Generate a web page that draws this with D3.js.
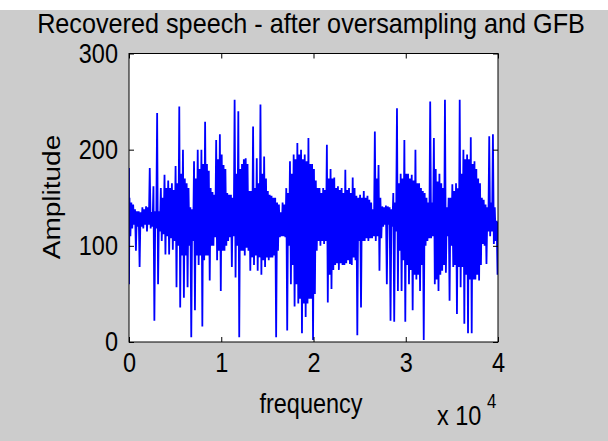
<!DOCTYPE html>
<html>
<head>
<meta charset="utf-8">
<script src="https://cdn.jsdelivr.net/npm/d3@7"></script>
<style>
body { margin: 0; background: #fff; }
text { font-family: "Liberation Sans", Arial, sans-serif; fill: #000; }
</style>
</head>
<body>
<svg width="608" height="441"></svg>
<script>
// samples every 400 units from 0 to 40000
let sampleStep = 400
// peak of each slot (spikes up)
let hi = [181,145,138,136,140,141,181,162,238,160,
          174,168,165,183,245,200,165,140,188,200,
          200,229,178,156,210,216,184,155,153,252,
          240,185,191,157,224,191,247,193,157,152,
          150,143,145,160,188,195,207,200,195,212,
          185,168,160,160,205,180,171,162,160,179,
          160,171,152,153,157,152,145,219,184,141,
          142,140,155,243,175,210,175,174,200,165,
          157,150,250,212,167,165,252,150,164,165,
          252,200,195,213,188,170,150,143,214,216,
          126]
// lowest of each slot (spikes down)
let lo = [60,118,95,78,118,115,118,22,60,105,
          91,91,96,57,36,46,57,5,33,80,
          16,90,64,100,85,53,95,105,78,67,
          5,95,98,74,80,74,70,78,85,88,
          5,109,110,12,60,37,40,9,26,45,
          2,95,100,102,41,55,80,75,80,82,
          81,88,7,36,105,105,108,105,74,120,
          60,22,21,53,53,21,60,33,65,53,
          2,105,108,60,53,74,72,43,78,29,
          57,19,9,9,65,64,102,81,110,102,
          70]
// solid part of the waveform, top and bottom
let bodyHi = [150,143,136,135,138,140,135,136,136,150,
              160,160,158,165,175,170,160,138,170,180,
              185,185,160,153,190,195,180,153,150,175,
              180,190,185,157,160,165,175,170,153,150,
              145,135,143,155,175,190,195,190,188,185,
              180,160,155,158,170,170,160,158,155,158,
              155,160,150,150,150,148,138,170,150,140,
              141,138,145,165,170,175,170,168,165,160,
              155,145,145,180,175,160,140,150,157,160,
              175,190,190,185,180,165,148,140,145,140,
              125]
let bodyLo = [110,122,120,120,122,122,120,118,115,112,
              110,108,105,100,90,90,100,105,90,90,
              85,90,100,109,95,95,100,109,110,100,
              95,90,95,88,90,88,85,88,88,90,
              95,110,109,100,80,60,45,40,40,45,
              50,105,105,105,70,75,82,82,80,85,
              80,85,105,105,108,108,110,110,108,122,
              122,120,115,95,85,80,75,70,70,80,
              100,108,110,65,70,80,110,100,80,78,
              78,70,65,65,70,80,100,115,115,105,
              100]

let xTicks = [0, 10000, 20000, 30000, 40000]
let xTickLabels = ["0", "1", "2", "3", "4"]
let yTicks = [0, 100, 200, 300]

let titre = "Recovered speech - after oversampling and GFB"

let gauche = 129, droite = 498, haut = 53.5, bas = 342
let sx = 0.84   // l'image d'origine est ecrasee en largeur

let svg = d3.select("svg")

// fond gris matlab, bande blanche en haut
svg.append("rect").attr("x", 0).attr("y", 10).attr("width", 608).attr("height", 431).attr("fill", "#cccccc")
svg.append("rect").attr("x", gauche).attr("y", haut).attr("width", droite - gauche).attr("height", bas - haut).attr("fill", "#fff")

let x = d3.scaleLinear().domain([0, 40000]).range([gauche, droite])
let y = d3.scaleLinear().domain([0, 300]).range([bas, haut])

// construire la courbe
let points = []
for (let i = 0; i < hi.length; i++) {
    let x0 = i * sampleStep
    let vals = [hi[i], lo[i], bodyHi[i], bodyLo[i]]
    for (let k = 0; k < 4; k++) {
        let xx = Math.min(40000, x0 - 150 + k * 100)
        points.push([Math.max(0, xx), vals[k]])
    }
}

svg.append("clipPath").attr("id", "clip")
    .append("rect").attr("x", gauche).attr("y", haut).attr("width", droite - gauche).attr("height", bas - haut)

let line = d3.line().x(d => x(d[0])).y(d => y(d[1]))
svg.append("path")
    .datum(points)
    .attr("d", line)
    .attr("fill", "none")
    .attr("stroke", "#0000ff")
    .attr("stroke-width", 1.8)
    .attr("clip-path", "url(#clip)")

// axes
let fs = 28
let xAxis = d3.axisBottom(x).tickValues(xTicks).tickFormat((d, i) => xTickLabels[i]).tickSizeInner(-5).tickSizeOuter(0).tickPadding(10)
svg.append("g").attr("transform", `translate(0,${bas})`).call(xAxis)
let yAxis = d3.axisLeft(y).tickValues(yTicks).tickSizeInner(-5).tickSizeOuter(0).tickPadding(11)
svg.append("g").attr("transform", `translate(${gauche},0)`).call(yAxis)
svg.append("g").attr("transform", `translate(0,${haut})`).call(d3.axisTop(x).tickValues(xTicks).tickFormat("").tickSizeInner(-5).tickSizeOuter(0))
svg.append("g").attr("transform", `translate(${droite},0)`).call(d3.axisRight(y).tickValues(yTicks).tickFormat("").tickSizeInner(-5).tickSizeOuter(0))

svg.selectAll(".domain").remove()
svg.selectAll(".tick line").attr("stroke", "#000")
svg.selectAll(".tick text").style("font-size", fs + "px").attr("fill", "#000")
    .each(function() {
        let t = d3.select(this)
        let tx = +t.attr("x") || 0, ty = +t.attr("y") || 0
        t.attr("x", 0).attr("y", 0).attr("transform", `translate(${tx},${ty}) scale(${sx},1)`)
    })

svg.append("rect").attr("x", gauche).attr("y", haut).attr("width", droite - gauche).attr("height", bas - haut)
    .attr("fill", "none").attr("stroke", "#000").attr("stroke-width", 1)

// textes
let titreElem = svg.append("text").attr("text-anchor", "middle")
    .style("font-size", "27px").text(titre)
let largeur = titreElem.node().getComputedTextLength()
titreElem.attr("transform", `translate(311,33) scale(${548 / largeur},1)`)

svg.append("text").attr("transform", `translate(311,413) scale(${sx},1)`).attr("text-anchor", "middle")
    .style("font-size", fs + "px").text("frequency")

svg.append("text").attr("transform", `translate(437,425) scale(${sx},1)`)
    .style("font-size", fs + "px").text("x 10")
svg.append("text").attr("transform", `translate(487,408) scale(${sx},1)`)
    .style("font-size", "20px").text("4")

svg.append("text").attr("transform", `translate(60,197) rotate(-90) scale(1,${sx})`).attr("text-anchor", "middle")
    .style("font-size", fs + "px").text("Amplitude")
</script>
</body>
</html>
